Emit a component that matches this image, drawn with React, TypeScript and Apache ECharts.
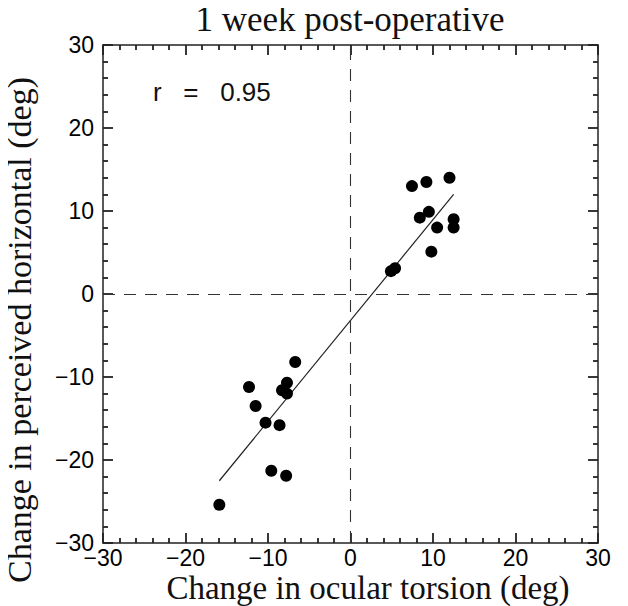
import React, { useEffect, useRef } from "react";
import * as echarts from "echarts";

const pointsX = [-6.7, -12.3, -7.7, -8.3, -7.7, -11.5, -10.3, -8.6, -9.6, -7.8, -15.9, 7.45, 9.2, 12.0, 8.4, 9.5, 10.5, 12.5, 12.5, 9.8, 4.9, 5.4];
const pointsY = [-8.2, -11.2, -10.7, -11.6, -12.0, -13.5, -15.5, -15.8, -21.3, -21.9, -25.4, 13.0, 13.5, 14.0, 9.2, 9.9, 8.0, 9.0, 8.0, 5.1, 2.75, 3.1];
const fitX = [-15.9, 12.5];
const fitY = [-22.5, 12.0];
const axisMin = -30;
const axisMax = 30;
const axisStep = 10;

const titleText = "1 week post-operative";
const xName = "Change in ocular torsion (deg)";
const yName = "Change in perceived horizontal (deg)";
const rText = "r   =   0.95";

const fmt = (v: number) => String(v).replace("-", "\u2212");

export default function App() {
  const ref = useRef<HTMLDivElement>(null);
  useEffect(() => {
    if (!ref.current) return;
    const chart = echarts.init(ref.current, null, { renderer: "svg" });
    const mkAxis = (position: string, showLabel: boolean) => ({
      type: "value",
      position,
      min: axisMin,
      max: axisMax,
      interval: axisStep,
      axisLine: { show: true, onZero: false, lineStyle: { color: "#222", width: 1.5 } },
      axisTick: { show: true, inside: true, length: 10, lineStyle: { color: "#222", width: 1.8 } },
      minorTick: { show: true, splitNumber: 5, length: 5, lineStyle: { color: "#222", width: 1.8 } },
      splitLine: { show: false },
      minorSplitLine: { show: false },
      axisLabel: showLabel
        ? {
            show: true,
            fontSize: 23,
            fontFamily: "Liberation Sans, Arial, sans-serif",
            color: "#000",
            margin: position === "bottom" ? 3 : 9,
            formatter: fmt,
          }
        : { show: false },
    });
    const serif = "Liberation Serif, Times New Roman, serif";
    chart.setOption({
      animation: false,
      backgroundColor: "#fff",
      grid: { left: 103, right: 30, top: 45, bottom: 63 },
      xAxis: [mkAxis("bottom", true), mkAxis("top", false)],
      yAxis: [mkAxis("left", true), mkAxis("right", false)],
      graphic: [
        {
          type: "text",
          x: 350,
          y: 19,
          style: { text: titleText, fontSize: 35, fontFamily: serif, fill: "#111", align: "center", verticalAlign: "middle" },
        },
        {
          type: "text",
          x: 368,
          y: 588,
          style: { text: xName, fontSize: 33, fontFamily: serif, fill: "#111", align: "center", verticalAlign: "middle" },
        },
        {
          type: "text",
          x: 19,
          y: 330,
          rotation: Math.PI / 2,
          style: { text: yName, fontSize: 34, fontFamily: serif, fill: "#111", align: "center", verticalAlign: "middle" },
        },
        {
          type: "text",
          x: 153,
          y: 92,
          style: { text: rText, fontSize: 26, fontFamily: "Liberation Sans, Arial, sans-serif", fill: "#111", align: "left", verticalAlign: "middle" },
        },
      ],
      series: [
        {
          type: "scatter",
          data: pointsX.map((x, i) => [x, pointsY[i]]),
          symbol: "circle",
          symbolSize: 12,
          itemStyle: { color: "#000", opacity: 1 },
          markLine: {
            silent: true,
            symbol: "none",
            label: { show: false },
            lineStyle: { color: "#333", width: 1.1, type: [12, 9] },
            data: [{ xAxis: 0 }, { yAxis: 0 }],
          },
          z: 3,
        },
        {
          type: "line",
          data: fitX.map((x, i) => [x, fitY[i]]),
          symbol: "none",
          lineStyle: { color: "#222", width: 1.2 },
          z: 2,
        },
      ],
    });
    return () => chart.dispose();
  }, []);
  return <div ref={ref} style={{ width: 628, height: 606, marginLeft: -8, marginTop: -8 }} />;
}
